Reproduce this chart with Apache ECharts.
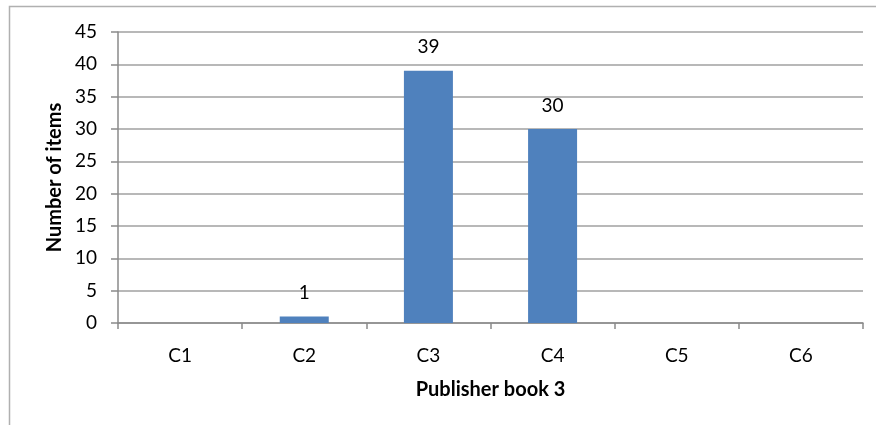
<!doctype html>
<html>
<head>
    <meta charset="utf-8">
    <title>Publisher book 3</title>
    <script src="https://cdn.jsdelivr.net/npm/echarts@6/dist/echarts.min.js"></script>
</head>
<body style="margin:0;background:#fff;">
    <div id="container" style="width:876px;height:425px;"></div>
    <script type="text/javascript">
        var categories = ['C1', 'C2', 'C3', 'C4', 'C5', 'C6'];
        var itemCounts = [0, 1, 39, 30, 0, 0];
        var yTicks = { min: 0, max: 45, interval: 5 };

        var font = 'Lato, Open Sans, sans-serif';
        var chart = echarts.init(document.getElementById('container'));
        chart.setOption({
            animation: false,
            textStyle: { fontFamily: font },
            graphic: [{
                type: 'rect',
                shape: { x: 9.5, y: 6.5, width: 880, height: 430 },
                style: { fill: 'none', stroke: '#b0b0b0', lineWidth: 1.5 }
            }],
            grid: { left: 118, right: 13, top: 32, bottom: 102 },
            xAxis: {
                type: 'category',
                data: categories,
                name: 'Publisher book 3',
                nameLocation: 'middle',
                nameGap: 57,
                nameTextStyle: { fontSize: 20, fontWeight: 'bold', color: '#000', fontFamily: font },
                axisLine: { lineStyle: { color: '#8a8a8a', width: 1.5 } },
                axisTick: { show: true, length: 6, lineStyle: { color: '#8a8a8a', width: 1.5 } },
                axisLabel: { fontSize: 19, color: '#000', margin: 23, fontFamily: font }
            },
            yAxis: {
                type: 'value',
                min: yTicks.min,
                max: yTicks.max,
                interval: yTicks.interval,
                name: 'Number of items',
                nameLocation: 'middle',
                nameGap: 53,
                nameTextStyle: { fontSize: 20, fontWeight: 'bold', color: '#000', fontFamily: font },
                axisLine: { show: true, lineStyle: { color: '#8a8a8a', width: 1.5 } },
                axisTick: { show: true, length: 7, lineStyle: { color: '#8a8a8a', width: 1.5 } },
                axisLabel: { fontSize: 19, color: '#000', margin: 21, fontFamily: font },
                splitLine: { lineStyle: { color: '#a0a0a0', width: 1.5 } }
            },
            series: [{
                type: 'bar',
                data: itemCounts,
                barWidth: 49,
                itemStyle: { color: '#4f81bd' },
                label: {
                    show: true,
                    position: 'top',
                    distance: 14,
                    fontSize: 19,
                    color: '#000',
                    fontFamily: font,
                    formatter: function (p) { return p.value > 0 ? p.value : ''; }
                }
            }]
        });
    </script>
</body>
</html>
